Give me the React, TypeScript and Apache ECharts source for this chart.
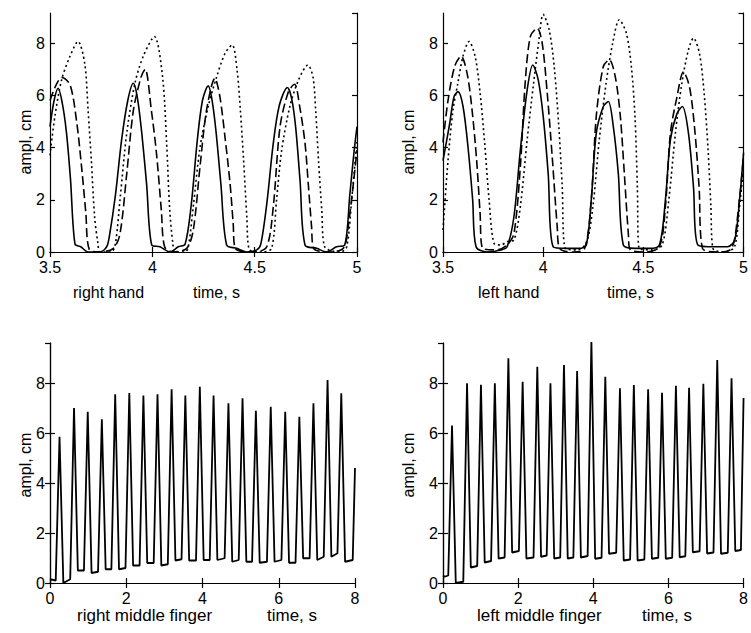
import React, { useEffect, useRef } from "react";
import * as echarts from "echarts";

// ---------- axis settings ----------
const TOP_X_MIN = 3.5;
const TOP_X_MAX = 5;
const TOP_X_INTERVAL = 0.5;
const TOP_Y_MAX = 9.15;
const BOTTOM_X_MIN = 0;
const BOTTOM_X_MAX = 8;
const BOTTOM_X_INTERVAL = 2;
const BOTTOM_Y_MAX = 9.6;
const Y_INTERVAL = 2;

// ---------- labels ----------
const Y_NAME = "ampl, cm";
const X_NAME = "time, s";
const PANEL_NAMES = ["right hand", "left hand", "right middle finger", "left middle finger"];

// ---------- data: [time s, amplitude cm] ----------
const RIGHT_HAND_SOLID: number[][] = [
  [3.5, 4.8], [3.52, 5.8], [3.54, 6.27], [3.56, 5.7], [3.58, 4.6], [3.6, 2.8], [3.622, 0.3], [3.65, 0.2],
  [3.687, 0], [3.744, 0], [3.777, 0.2], [3.79, 0.6], [3.82, 2.2], [3.85, 4.3], [3.88, 5.8], [3.907, 6.46],
  [3.925, 6.0], [3.945, 4.8], [3.972, 2.6], [3.997, 0.27], [4.037, 0.2], [4.086, 0], [4.127, 0.2], [4.16, 0.3],
  [4.19, 1.8], [4.22, 4.3], [4.245, 5.8], [4.273, 6.36], [4.29, 5.9], [4.31, 4.7], [4.335, 2.6], [4.363, 0.27],
  [4.412, 0.14], [4.46, 0], [4.51, 0.08], [4.53, 0.3], [4.56, 1.9], [4.59, 4.1], [4.62, 5.6], [4.66, 6.3],
  [4.68, 5.9], [4.7, 4.8], [4.722, 2.7], [4.746, 0.27], [4.803, 0.14], [4.852, 0], [4.9, 0.2], [4.94, 0.27],
  [4.965, 2.2], [4.985, 3.8], [5.0, 4.8],
];
const RIGHT_HAND_DASHED: number[][] = [
  [3.5, 5.8], [3.53, 6.4], [3.557, 6.68], [3.598, 6.4], [3.63, 5.0], [3.655, 3.2], [3.675, 1.5], [3.692, 0.1],
  [3.744, 0], [3.81, 0.14], [3.842, 0.7], [3.875, 3.0], [3.907, 5.4], [3.945, 6.7], [3.965, 7.0], [3.995, 5.44],
  [4.02, 3.8], [4.044, 1.6], [4.06, 0.2], [4.102, 0], [4.168, 0.14], [4.2, 0.84], [4.233, 3.27], [4.265, 5.44],
  [4.306, 6.65], [4.33, 5.95], [4.355, 4.4], [4.38, 2.6], [4.395, 1.1], [4.405, 0.14], [4.5, 0], [4.559, 0.2],
  [4.591, 1.74], [4.624, 4.8], [4.665, 6.14], [4.695, 6.42], [4.72, 5.57], [4.746, 4.17], [4.762, 2.6],
  [4.778, 0.97], [4.788, 0.14], [4.86, 0], [4.933, 0.14], [4.957, 0.97], [5.0, 3.9],
];
const RIGHT_HAND_DOTTED: number[][] = [
  [3.5, 3.7], [3.524, 5.2], [3.557, 6.6], [3.598, 7.5], [3.637, 8.06], [3.67, 7.2], [3.686, 5.44], [3.702, 3.5],
  [3.718, 1.35], [3.734, 0.34], [3.745, 0], [3.8, 0], [3.82, 0.34], [3.842, 2.0], [3.875, 4.55], [3.915, 6.46],
  [3.956, 7.5], [4.01, 8.25], [4.05, 6.7], [4.07, 4.14], [4.085, 1.6], [4.1, 0.34], [4.11, 0], [4.16, 0],
  [4.176, 0.2], [4.2, 1.74], [4.233, 4.0], [4.273, 5.57], [4.314, 6.7], [4.355, 7.6], [4.39, 7.93], [4.414, 6.97],
  [4.43, 5.44], [4.446, 3.5], [4.462, 1.3], [4.474, 0.1], [4.54, 0], [4.583, 0.14], [4.607, 2.0], [4.632, 3.9],
  [4.672, 5.57], [4.715, 6.6], [4.76, 7.16], [4.785, 6.7], [4.798, 5.44], [4.812, 3.5], [4.828, 1.6],
  [4.842, 0.2], [4.92, 0], [4.95, 0.2], [4.974, 2.0], [5.0, 4.3],
];
const LEFT_HAND_SOLID: number[][] = [
  [3.5, 3.5], [3.533, 4.9], [3.555, 5.95], [3.575, 6.14], [3.6, 5.57], [3.625, 4.0], [3.648, 2.0], [3.665, 0.2],
  [3.72, 0], [3.79, 0.08], [3.82, 0.2], [3.854, 1.35], [3.886, 3.9], [3.92, 6.2], [3.948, 7.16], [3.975, 6.6],
  [4.0, 5.2], [4.025, 3.0], [4.05, 0.2], [4.117, 0.14], [4.18, 0.14], [4.215, 0.27], [4.24, 2.0], [4.265, 4.55],
  [4.3, 5.57], [4.325, 5.76], [4.35, 4.8], [4.375, 3.0], [4.4, 0.27], [4.46, 0.14], [4.53, 0.14], [4.58, 0.27],
  [4.61, 2.0], [4.635, 4.3], [4.668, 5.3], [4.695, 5.57], [4.725, 4.55], [4.75, 2.5], [4.772, 0.27],
  [4.857, 0.2], [4.92, 0.2], [4.956, 0.46], [4.98, 2.0], [5.0, 3.8],
];
const LEFT_HAND_DASHED: number[][] = [
  [3.5, 4.2], [3.525, 5.8], [3.558, 7.1], [3.59, 7.5], [3.62, 6.85], [3.645, 5.44], [3.668, 3.5], [3.685, 1.5],
  [3.698, 0.14], [3.77, 0.08], [3.82, 0.27], [3.854, 0.7], [3.886, 3.27], [3.91, 6.46], [3.936, 8.25],
  [3.97, 8.57], [3.995, 8.0], [4.02, 6.1], [4.045, 3.65], [4.07, 0.97], [4.082, 0.14], [4.15, 0], [4.207, 0.14],
  [4.24, 2.0], [4.265, 5.2], [4.3, 7.1], [4.33, 7.36], [4.36, 6.7], [4.385, 5.2], [4.405, 3.0], [4.425, 0.7],
  [4.435, 0.08], [4.51, 0], [4.58, 0.2], [4.61, 1.74], [4.635, 4.55], [4.668, 5.95], [4.7, 6.9], [4.73, 6.33],
  [4.755, 4.8], [4.778, 2.5], [4.795, 0.14], [4.873, 0], [4.94, 0.14], [4.97, 1.35], [5.0, 3.65],
];
const LEFT_HAND_DOTTED: number[][] = [
  [3.5, 0.84], [3.525, 3.5], [3.55, 5.44], [3.574, 6.46], [3.6, 7.5], [3.63, 8.06], [3.66, 7.5], [3.685, 6.1],
  [3.708, 4.16], [3.73, 2.0], [3.755, 0.33], [3.79, 0.27], [3.82, 0.4], [3.854, 0.46], [3.886, 1.74],
  [3.92, 4.3], [3.952, 6.46], [3.977, 8.0], [4.0, 9.1], [4.03, 8.5], [4.055, 7.1], [4.078, 4.8], [4.095, 2.5],
  [4.11, 0.14], [4.166, 0.08], [4.215, 0.33], [4.248, 1.74], [4.28, 4.3], [4.314, 6.46], [4.347, 8.0],
  [4.38, 8.89], [4.415, 8.38], [4.44, 7.1], [4.458, 5.2], [4.47, 2.5], [4.478, 0.14], [4.544, 0.08],
  [4.594, 0.27], [4.627, 2.0], [4.66, 4.55], [4.692, 6.46], [4.725, 7.74], [4.75, 8.19], [4.78, 7.6],
  [4.803, 6.1], [4.823, 3.9], [4.837, 1.74], [4.847, 0.14], [4.906, 0], [4.955, 0.2], [4.98, 1.74], [5.0, 3.27],
];
const RIGHT_MIDDLE_FINGER: number[][] = [
  [0, 0.15], [0.15, 0.1], [0.25, 5.85], [0.35, 0], [0.53, 0.15], [0.63, 7.0], [0.73, 0.5], [0.89, 0.5],
  [0.99, 6.85], [1.09, 0.4], [1.26, 0.45], [1.36, 6.55], [1.46, 0.55], [1.61, 0.55], [1.71, 7.55], [1.81, 0.55],
  [1.98, 0.6], [2.08, 7.6], [2.18, 0.7], [2.35, 0.7], [2.45, 7.5], [2.55, 0.8], [2.72, 0.8], [2.82, 7.55],
  [2.92, 0.7], [3.09, 0.75], [3.19, 7.75], [3.29, 0.9], [3.45, 0.95], [3.55, 7.5], [3.65, 0.9], [3.83, 0.9],
  [3.93, 7.85], [4.03, 0.92], [4.19, 0.92], [4.29, 7.5], [4.39, 0.92], [4.58, 0.99], [4.68, 7.19], [4.78, 0.85],
  [4.95, 0.92], [5.05, 7.39], [5.15, 0.85], [5.3, 0.85], [5.4, 6.89], [5.5, 0.81], [5.69, 0.85], [5.79, 7.05],
  [5.89, 0.85], [6.07, 0.92], [6.17, 6.85], [6.27, 0.81], [6.44, 0.81], [6.54, 6.65], [6.64, 0.99], [6.81, 0.99],
  [6.91, 7.19], [7.01, 0.92], [7.18, 1.05], [7.28, 8.12], [7.38, 1.05], [7.54, 1.19], [7.64, 7.59], [7.74, 0.85],
  [7.94, 0.92], [8.0, 4.6],
];
const LEFT_MIDDLE_FINGER: number[][] = [
  [0, 0.3], [0.04, 0.25], [0.14, 0.3], [0.24, 6.3], [0.34, 0.0], [0.54, 0.05], [0.64, 7.99], [0.74, 0.62],
  [0.91, 0.68], [1.01, 7.93], [1.11, 0.82], [1.28, 0.88], [1.38, 7.99], [1.48, 0.98], [1.64, 1.02], [1.74, 8.99],
  [1.84, 1.22], [2.02, 1.28], [2.12, 8.05], [2.22, 0.98], [2.41, 1.02], [2.51, 8.65], [2.61, 1.05], [2.76, 1.1],
  [2.86, 7.99], [2.96, 0.98], [3.12, 1.02], [3.22, 8.72], [3.32, 0.98], [3.47, 1.02], [3.57, 8.48], [3.67, 1.02],
  [3.85, 1.08], [3.95, 9.7], [4.05, 0.97], [4.22, 1.01], [4.32, 8.25], [4.42, 1.17], [4.61, 1.21], [4.71, 7.79],
  [4.81, 0.9], [4.98, 0.94], [5.08, 7.92], [5.18, 0.9], [5.36, 0.94], [5.46, 7.75], [5.56, 0.97], [5.73, 1.01],
  [5.83, 7.61], [5.93, 0.97], [6.1, 1.01], [6.2, 7.89], [6.3, 1.03], [6.45, 1.07], [6.55, 7.81], [6.65, 1.23],
  [6.83, 1.27], [6.93, 7.97], [7.03, 1.18], [7.2, 1.22], [7.3, 8.92], [7.4, 1.17], [7.58, 1.21], [7.68, 8.19],
  [7.78, 1.28], [7.93, 1.32], [8.0, 7.4],
];

const FONT = '"Liberation Sans", Arial, Helvetica, sans-serif';
const W = 751;
const H = 633;

type Panel = {
  left: number; top: number; width: number; height: number;
  xMin: number; xMax: number; xInt: number; yMax: number;
  lines: { data: number[][]; style: "solid" | "dashed" | "dotted" }[];
};

const PANELS: Panel[] = [
  {
    left: 50, top: 13, width: 307, height: 239, xMin: TOP_X_MIN, xMax: TOP_X_MAX, xInt: TOP_X_INTERVAL, yMax: TOP_Y_MAX,
    lines: [
      { data: RIGHT_HAND_DOTTED, style: "dotted" },
      { data: RIGHT_HAND_DASHED, style: "dashed" },
      { data: RIGHT_HAND_SOLID, style: "solid" },
    ],
  },
  {
    left: 443, top: 13, width: 304, height: 239, xMin: TOP_X_MIN, xMax: TOP_X_MAX, xInt: TOP_X_INTERVAL, yMax: TOP_Y_MAX,
    lines: [
      { data: LEFT_HAND_DOTTED, style: "dotted" },
      { data: LEFT_HAND_DASHED, style: "dashed" },
      { data: LEFT_HAND_SOLID, style: "solid" },
    ],
  },
  {
    left: 50, top: 343, width: 305, height: 240, xMin: BOTTOM_X_MIN, xMax: BOTTOM_X_MAX, xInt: BOTTOM_X_INTERVAL, yMax: BOTTOM_Y_MAX,
    lines: [{ data: RIGHT_MIDDLE_FINGER, style: "solid" }],
  },
  {
    left: 443, top: 343, width: 304, height: 240, xMin: BOTTOM_X_MIN, xMax: BOTTOM_X_MAX, xInt: BOTTOM_X_INTERVAL, yMax: BOTTOM_Y_MAX,
    lines: [{ data: LEFT_MIDDLE_FINGER, style: "solid" }],
  },
];

function buildOption() {
  const grid: any[] = [];
  const xAxis: any[] = [];
  const yAxis: any[] = [];
  const series: any[] = [];
  const axisLine = { show: true, lineStyle: { color: "#000", width: 1.2 } };
  const axisTick = { show: true, inside: true, length: 5, lineStyle: { color: "#000", width: 1.2 } };
  const label = { color: "#000", fontFamily: FONT, fontSize: 16 };

  PANELS.forEach((p, i) => {
    grid.push({ left: p.left, top: p.top, width: p.width, height: p.height, containLabel: false });
    xAxis.push({
      type: "value", gridIndex: i, position: "bottom", min: p.xMin, max: p.xMax, interval: p.xInt,
      axisLine, axisTick, splitLine: { show: false },
      axisLabel: { ...label, margin: 7, showMinLabel: true, showMaxLabel: true },
    });
    xAxis.push({
      type: "value", gridIndex: i, position: "top", min: p.xMin, max: p.xMax, interval: p.xInt,
      axisLine, axisTick, splitLine: { show: false }, axisLabel: { show: false },
    });
    yAxis.push({
      type: "value", gridIndex: i, position: "left", min: 0, max: p.yMax, interval: Y_INTERVAL,
      axisLine, axisTick, splitLine: { show: false },
      axisLabel: { ...label, margin: 5, showMaxLabel: false },
    });
    yAxis.push({
      type: "value", gridIndex: i, position: "right", min: 0, max: p.yMax, interval: Y_INTERVAL,
      axisLine, axisTick, splitLine: { show: false }, axisLabel: { show: false },
    });
    p.lines.forEach((l) => {
      series.push({
        type: "line", xAxisIndex: 2 * i, yAxisIndex: 2 * i, data: l.data, showSymbol: false, symbol: "none",
        clip: true, smooth: i < 2 ? 0.3 : false,
        lineStyle: {
          color: "#000", width: i < 2 ? 1.6 : 1.8, cap: "butt",
          type: l.style === "solid" ? "solid" : l.style === "dashed" ? [9, 4] : [2, 3],
        },
      });
    });
  });

  const txt = (text: string, x: number, y: number, size: number, rotate = false, align = "left") => ({
    type: "text", x, y, rotation: rotate ? Math.PI / 2 : 0,
    style: { text, fill: "#000", fontFamily: FONT, fontSize: size, align: rotate ? "center" : align, verticalAlign: "middle" },
  });

  const graphic = [
    txt(Y_NAME, 25, 142, 16, true),
    txt(Y_NAME, 408, 142, 16, true),
    txt(Y_NAME, 25, 465, 16, true),
    txt(Y_NAME, 408, 465, 16, true),
    txt(PANEL_NAMES[0], 73, 292, 16),
    txt(X_NAME, 193, 292, 16),
    txt(PANEL_NAMES[1], 478, 292, 16),
    txt(X_NAME, 607, 292, 16),
    txt(PANEL_NAMES[2], 77, 615, 17),
    txt(X_NAME, 267, 615, 17),
    txt(PANEL_NAMES[3], 477, 615, 17),
    txt(X_NAME, 642, 615, 17),
  ];

  return { animation: false, backgroundColor: "#fff", grid, xAxis, yAxis, series, graphic };
}

export default function App() {
  const ref = useRef<HTMLDivElement>(null);
  useEffect(() => {
    if (!ref.current) return;
    const chart = echarts.init(ref.current, undefined, { renderer: "svg", width: W, height: H });
    chart.setOption(buildOption() as any);
    return () => chart.dispose();
  }, []);
  return (
    <div
      ref={ref}
      style={{ position: "fixed", left: 0, top: 0, width: W, height: H, background: "#fff" }}
    />
  );
}
